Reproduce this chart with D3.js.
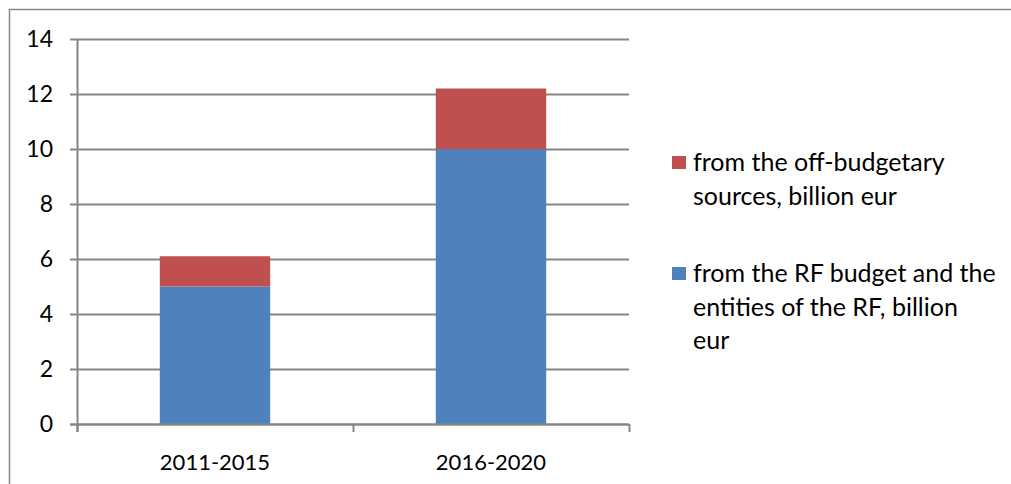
<!DOCTYPE html>
<html>
<head>
<meta charset="utf-8">
<script src="https://cdn.jsdelivr.net/npm/d3@7"></script>
<style>
  html, body { margin: 0; padding: 0; background: #fff; }
  svg { display: block; }
  text { font-family: Lato, "Open Sans", sans-serif; fill: #000; }
</style>
</head>
<body>
<script>
// Funding by period, billion eur
const periods = ["2011-2015", "2016-2020"];
const budgetValues = [5, 10];        // from the RF budget and the entities of the RF
const offBudgetValues = [1.1, 2.2];  // from the off-budgetary sources
const yTicks = [0, 2, 4, 6, 8, 10, 12, 14];
const seriesNames = [
  ["from the RF budget and the", "entities of the RF, billion", "eur"],
  ["from the off-budgetary", "sources, billion eur"]
];
const seriesColors = ["#4f81bd", "#c0504d"];

const W = 1011, H = 484;
const svg = d3.select("body").append("svg").attr("width", W).attr("height", H);

// outer frame (runs off the right and bottom edges)
svg.append("rect")
  .attr("x", 9.5).attr("y", 9.5)
  .attr("width", W + 20).attr("height", H + 20)
  .attr("fill", "none").attr("stroke", "#868686").attr("stroke-width", 1.5);

const plot = { left: 77, right: 629, top: 39, bottom: 424 };

const x = d3.scaleBand().domain(periods).range([plot.left, plot.right]).paddingInner(0.6).paddingOuter(0.3);
const xCat = d3.scaleBand().domain(periods).range([plot.left, plot.right]);
const y = d3.scaleLinear().domain([0, 14]).range([plot.bottom, plot.top]);

// horizontal gridlines
svg.append("g").selectAll("line").data(yTicks).join("line")
  .attr("x1", plot.left - 7).attr("x2", plot.right)
  .attr("y1", d => Math.round(y(d)) + 0.5).attr("y2", d => Math.round(y(d)) + 0.5)
  .attr("stroke", "#868686").attr("stroke-width", 2);

// y axis line
svg.append("line")
  .attr("x1", plot.left + 0.5).attr("x2", plot.left + 0.5)
  .attr("y1", plot.top).attr("y2", plot.bottom + 8)
  .attr("stroke", "#868686").attr("stroke-width", 2);

// y tick labels
svg.append("g").selectAll("text").data(yTicks).join("text")
  .attr("x", 53).attr("y", d => y(d))
  .attr("dy", "0.36em").attr("text-anchor", "end")
  .attr("font-size", 23).text(d => d);

// stacked bars
const stacked = periods.map((p, i) => ({ p, segs: [[0, budgetValues[i]], [budgetValues[i], budgetValues[i] + offBudgetValues[i]]] }));
stacked.forEach(s => {
  s.segs.forEach((seg, k) => {
    svg.append("rect")
      .attr("x", x(s.p)).attr("width", x.bandwidth())
      .attr("y", y(seg[1])).attr("height", y(seg[0]) - y(seg[1]))
      .attr("fill", seriesColors[k]);
  });
});

// category tick marks on the x axis
const catEdges = [plot.left, ...periods.map(p => xCat(p) + xCat.bandwidth())];
svg.append("g").selectAll("line").data(catEdges).join("line")
  .attr("x1", d => d + 0.5).attr("x2", d => d + 0.5)
  .attr("y1", plot.bottom).attr("y2", plot.bottom + 8)
  .attr("stroke", "#868686").attr("stroke-width", 2);

// baseline redrawn over the bars
svg.append("line")
  .attr("x1", plot.left - 7).attr("x2", plot.right)
  .attr("y1", plot.bottom + 0.5).attr("y2", plot.bottom + 0.5)
  .attr("stroke", "#868686").attr("stroke-width", 2);

// category labels
svg.append("g").selectAll("text").data(periods).join("text")
  .attr("x", p => xCat(p) + xCat.bandwidth() / 2).attr("y", 462)
  .attr("dy", "0.36em").attr("text-anchor", "middle")
  .attr("font-size", 22).text(p => p);

// legend (off-budgetary listed first)
const legend = [
  { color: seriesColors[1], lines: seriesNames[1], y: 162 },
  { color: seriesColors[0], lines: seriesNames[0], y: 273 }
];
legend.forEach(item => {
  svg.append("rect").attr("x", 672).attr("y", item.y - 6).attr("width", 14).attr("height", 13).attr("fill", item.color);
  const t = svg.append("text").attr("x", 693).attr("y", item.y).attr("font-size", 25);
  item.lines.forEach((ln, i) => {
    t.append("tspan").attr("x", 693).attr("y", item.y + i * 33.5).attr("dy", "0.36em").text(ln);
  });
});
</script>
</body>
</html>
